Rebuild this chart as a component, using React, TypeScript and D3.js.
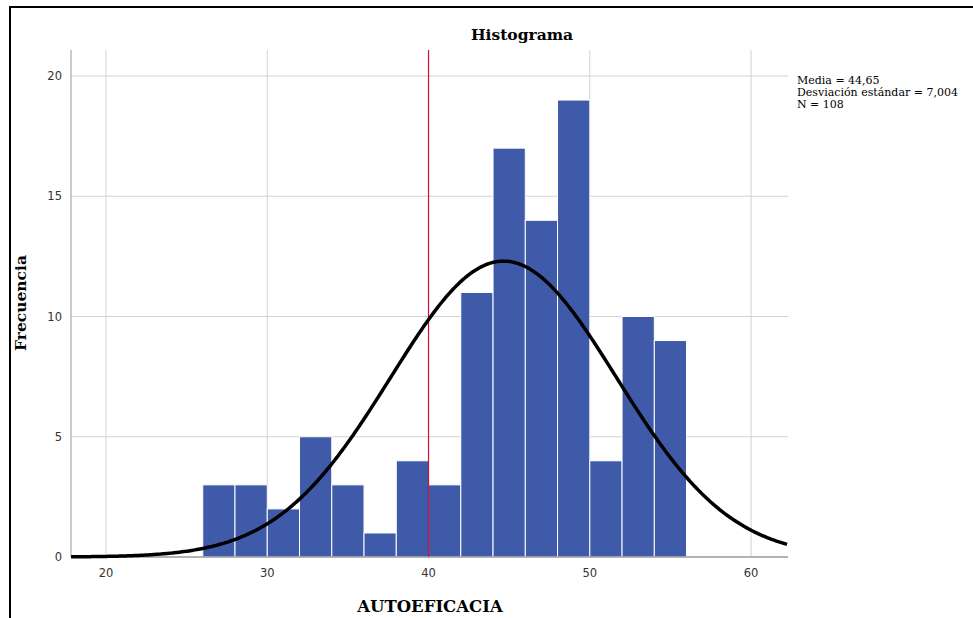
import React from "react";
import * as d3 from "d3";

// bins of width 2 starting at 26
const binStarts = [26, 28, 30, 32, 34, 36, 38, 40, 42, 44, 46, 48, 50, 52, 54];
const counts = [3, 3, 2, 5, 3, 1, 4, 3, 11, 17, 14, 19, 4, 10, 9];
const xTicks = [20, 30, 40, 50, 60];
const yTicks = [0, 5, 10, 15, 20];
const statLines = ["Media = 44,65", "Desviación estándar = 7,004", "N = 108"];
const mean = 44.65;
const sd = 7.004;
const n = 108;
const binWidth = 2;
const refLine = 40;

const W = 973;
const H = 618;

const App = () => {
  const svgRef = React.useRef<SVGSVGElement>(null);

  React.useEffect(() => {
    const x = d3.scaleLinear().domain([17.83, 62.29]).range([71, 788]);
    const y = d3.scaleLinear().domain([0, 20]).range([557, 76]);
    const top = 50;

    const svgEl = d3.select(svgRef.current);
    svgEl.selectAll("*").remove();
    const svg = svgEl.append("g");

    // outer frame (top and left edges visible)
    svg.append("line").attr("x1", 9).attr("x2", W).attr("y1", 7).attr("y2", 7)
      .attr("stroke", "#000").attr("stroke-width", 2);
    svg.append("line").attr("x1", 10).attr("x2", 10).attr("y1", 6).attr("y2", H)
      .attr("stroke", "#000").attr("stroke-width", 2);

    // grid lines
    svg.append("g").selectAll("line").data(xTicks).enter().append("line")
      .attr("x1", (d) => x(d)).attr("x2", (d) => x(d))
      .attr("y1", top).attr("y2", y(0))
      .attr("stroke", "#d2d2d2").attr("stroke-width", 1);
    svg.append("g").selectAll("line").data(yTicks.filter((d) => d > 0)).enter().append("line")
      .attr("x1", x.range()[0]).attr("x2", x.range()[1])
      .attr("y1", (d) => y(d)).attr("y2", (d) => y(d))
      .attr("stroke", "#d2d2d2").attr("stroke-width", 1);

    // bars
    svg.append("g").selectAll("rect").data(binStarts).enter().append("rect")
      .attr("x", (d) => x(d))
      .attr("width", (d) => x(d + binWidth) - x(d))
      .attr("y", (d, i) => y(counts[i]))
      .attr("height", (d, i) => y(0) - y(counts[i]))
      .attr("fill", "#3f5aa9")
      .attr("stroke", "#ffffff")
      .attr("stroke-width", 1);

    // axes lines
    svg.append("line").attr("x1", x.range()[0]).attr("x2", x.range()[0])
      .attr("y1", top).attr("y2", y(0)).attr("stroke", "#9a9a9a");
    svg.append("line").attr("x1", x.range()[0]).attr("x2", x.range()[1])
      .attr("y1", y(0)).attr("y2", y(0)).attr("stroke", "#9a9a9a").attr("stroke-width", 1.5);

    // reference line
    svg.append("line").attr("x1", x(refLine)).attr("x2", x(refLine))
      .attr("y1", top).attr("y2", y(0))
      .attr("stroke", "#d0103a").attr("stroke-width", 1.2);

    // normal curve
    const pts = d3.range(x.domain()[0], x.domain()[1] + 0.01, 0.1);
    const pdf = (v: number) =>
      (n * binWidth) / (sd * Math.sqrt(2 * Math.PI)) * Math.exp(-0.5 * ((v - mean) / sd) ** 2);
    const line = d3.line<number>().x((d) => x(d)).y((d) => y(pdf(d)));
    svg.append("path").datum(pts).attr("d", line)
      .attr("fill", "none").attr("stroke", "#000").attr("stroke-width", 3.5);

    // tick labels
    svg.append("g").selectAll("text").data(xTicks).enter().append("text")
      .attr("x", (d) => x(d)).attr("y", 577)
      .attr("text-anchor", "middle")
      .attr("font-family", "DejaVu Sans").attr("font-size", 11.5).attr("fill", "#333")
      .text((d) => d);
    svg.append("g").selectAll("text").data(yTicks).enter().append("text")
      .attr("x", 62).attr("y", (d) => y(d) + 4)
      .attr("text-anchor", "end")
      .attr("font-family", "DejaVu Sans").attr("font-size", 11.5).attr("fill", "#333")
      .text((d) => d);

    // titles
    const serif = "DejaVu Serif";
    svg.append("text").attr("x", 522).attr("y", 40).attr("text-anchor", "middle")
      .attr("font-family", serif).attr("font-weight", "bold").attr("font-size", 15.5)
      .text("Histograma");
    svg.append("text").attr("x", 430).attr("y", 612).attr("text-anchor", "middle")
      .attr("font-family", serif).attr("font-weight", "bold").attr("font-size", 16.5)
      .text("AUTOEFICACIA");
    svg.append("text").attr("transform", "translate(26,303) rotate(-90)").attr("text-anchor", "middle")
      .attr("font-family", serif).attr("font-weight", "bold").attr("font-size", 15.5)
      .text("Frecuencia");

    // stats
    svg.append("g").selectAll("text").data(statLines).enter().append("text")
      .attr("x", 797).attr("y", (d, i) => 84 + i * 12)
      .attr("font-family", serif).attr("font-size", 11).attr("fill", "#000")
      .text((d) => d);
  }, []);

  return (
    <div style={{ position: "absolute", left: 0, top: 0 }}>
      <svg ref={svgRef} width={W} height={H} style={{ display: "block", background: "#fff" }} />
    </div>
  );
};

export default App;
